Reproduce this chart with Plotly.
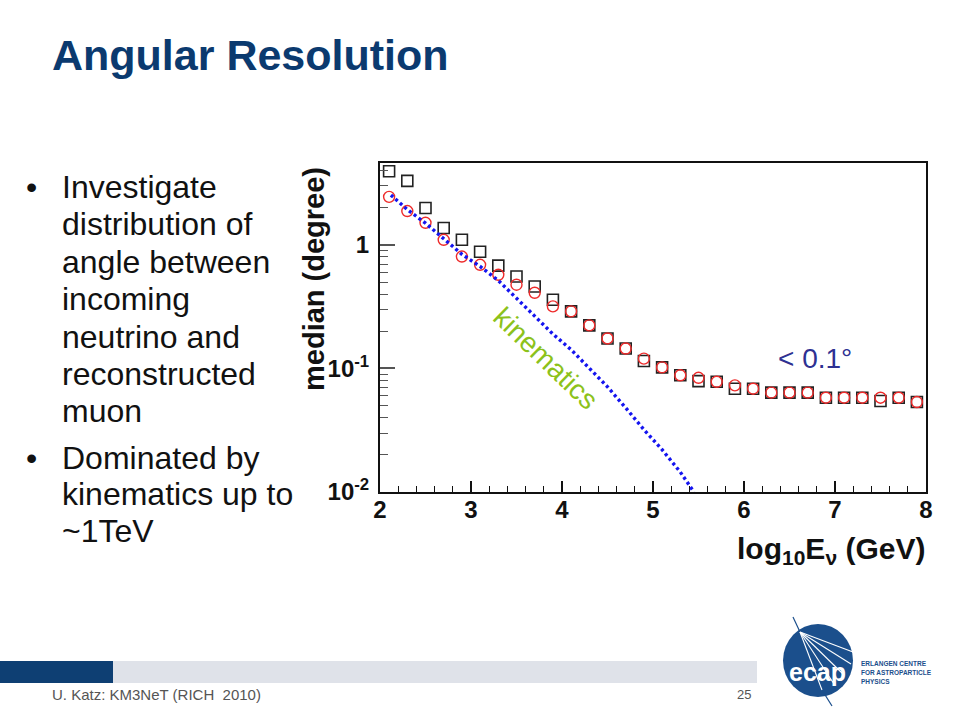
import plotly.graph_objects as go

# ---------------- data ----------------
energies = [2.1, 2.3, 2.5, 2.7, 2.9, 3.1, 3.3, 3.5, 3.7, 3.9,
            4.1, 4.3, 4.5, 4.7, 4.9, 5.1, 5.3, 5.5, 5.7, 5.9,
            6.1, 6.3, 6.5, 6.7, 6.9, 7.1, 7.3, 7.5, 7.7, 7.9]
median_squares = [3.95, 3.30, 1.99, 1.37, 1.10, 0.88, 0.68, 0.555, 0.46, 0.36,
                  0.29, 0.223, 0.175, 0.145, 0.115, 0.102, 0.088, 0.079, 0.078, 0.0686,
                  0.0686, 0.0637, 0.0637, 0.0637, 0.058, 0.058, 0.058, 0.0545, 0.058, 0.0535]
median_circles = [2.45, 1.88, 1.51, 1.10, 0.805, 0.69, 0.573, 0.476, 0.41, 0.318,
                  0.29, 0.223, 0.175, 0.145, 0.12, 0.102, 0.088, 0.084, 0.078, 0.073,
                  0.0686, 0.0637, 0.0637, 0.0637, 0.058, 0.058, 0.058, 0.058, 0.058, 0.0535]
kin_energy = [2.12, 2.3, 2.5, 2.7, 2.9, 3.1, 3.3, 3.5, 3.7, 3.9,
              4.1, 4.3, 4.5, 4.7, 4.9, 5.1, 5.3, 5.45]
kin_median = [2.53, 1.93, 1.50, 1.12, 0.84, 0.67, 0.515, 0.37, 0.265, 0.19,
              0.142, 0.101, 0.071, 0.048, 0.032, 0.022, 0.0145, 0.0100]

x_ticks = [2, 3, 4, 5, 6, 7, 8]
y_ticks = [0.01, 0.1, 1]
y_tick_labels = ["10<sup>-2</sup>", "10<sup>-1</sup>", "1"]
y_minor = [m * d for d in (0.01, 0.1, 1) for m in range(2, 10) if m * d < 4.6]

bullets = [
    ["Investigate", "distribution of", "angle between", "incoming",
     "neutrino and", "reconstructed", "muon"],
    ["Dominated by", "kinematics up to", "~1TeV"],
]

# ---------------- layout helpers (pixel -> paper) ----------------
W, H = 960, 720
L, R, T, B = 380, 926, 163, 492


def px(x):
    return (x - L) / (R - L)


def py(y):
    return (B - y) / (B - T)


FONT = "Liberation Sans, Arial, sans-serif"


def note(x, y, text, size, color, xanchor="center", yanchor="middle", angle=0):
    return dict(x=px(x), y=py(y), xref="paper", yref="paper", text=text,
                showarrow=False, xanchor=xanchor, yanchor=yanchor, textangle=angle,
                font=dict(family=FONT, size=size, color=color))


fig = go.Figure()
fig.add_trace(go.Scatter(
    x=energies, y=median_squares, mode="markers",
    marker=dict(symbol="square-open", size=11, color="#222222", line=dict(width=1.6)),
    showlegend=False, cliponaxis=False))
fig.add_trace(go.Scatter(
    x=energies, y=median_circles, mode="markers",
    marker=dict(symbol="circle-open", size=11, color="#ee2a2a", line=dict(width=1.4)),
    showlegend=False, cliponaxis=False))
fig.add_trace(go.Scatter(
    x=kin_energy, y=kin_median, mode="lines",
    line=dict(color="#1414f0", width=3.4, dash="3px,3px"),
    showlegend=False))

annotations = []
annotations.append(note(50, 55, "<b>Angular Resolution</b>", 43, "#0b3a6f", xanchor="left"))
line_y = [[187, 224, 262, 299, 337, 374, 411], [458, 494, 531]]
for block, ys in zip(bullets, line_y):
    annotations.append(note(24, ys[0], "•", 32, "#111111", xanchor="left"))
    for txt, yy in zip(block, ys):
        annotations.append(note(60, yy, txt, 32, "#111111", xanchor="left"))
annotations.append(note(314, 279, "<b>median (degree)</b>", 29, "#111111", angle=-90))
annotations.append(note(927, 550, "<b>log<sub>10</sub>E<sub>ν</sub> (GeV)</b>", 30,
                        "#111111", xanchor="right"))
annotations.append(note(546, 358, "kinematics", 28, "#8cc21a", angle=44))
annotations.append(note(815, 358, "< 0.1°", 28, "#2e3192"))
annotations.append(note(50, 694, "U. Katz: KM3NeT (RICH  2010)", 15, "#555555", xanchor="left"))
annotations.append(note(753, 694, "25", 13, "#555555", xanchor="right"))
annotations.append(note(817, 672, "<b>ecap</b>", 25, "white"))
for txt, yy in zip(["ERLANGEN CENTRE", "FOR ASTROPARTICLE", "PHYSICS"], [663, 672, 681]):
    annotations.append(note(859, yy, "<b>" + txt + "</b>", 6.5, "#1b4f8c", xanchor="left"))

shapes = [
    dict(type="rect", xref="paper", yref="paper", x0=px(0), x1=px(113), y0=py(683), y1=py(661),
         fillcolor="#0e3f73", line=dict(width=0), layer="below"),
    dict(type="rect", xref="paper", yref="paper", x0=px(113), x1=px(757), y0=py(683), y1=py(661),
         fillcolor="#dfe2e9", line=dict(width=0), layer="below"),
    dict(type="circle", xref="paper", yref="paper", x0=px(783), x1=px(853), y0=py(697), y1=py(624),
         fillcolor="#1b4f8c", line=dict(width=0), layer="below"),
    dict(type="line", xref="paper", yref="paper", x0=px(793), y0=py(617), x1=px(800), y1=py(632),
         line=dict(color="#1b4f8c", width=1.2)),
    dict(type="line", xref="paper", yref="paper", x0=px(822), y0=py(690), x1=px(832), y1=py(706),
         line=dict(color="#1b4f8c", width=1.2)),
]
for ex, ey in [(822, 690), (834, 684), (844, 675), (851, 664), (853, 652)]:
    shapes.append(dict(type="line", xref="paper", yref="paper", x0=px(800), y0=py(632),
                       x1=px(ex), y1=py(ey), line=dict(color="white", width=1.1), layer="below"))

fig.update_layout(
    width=W, height=H, autosize=False,
    margin=dict(l=L, r=W - R, t=T, b=H - B, pad=0),
    paper_bgcolor="white", plot_bgcolor="white",
    annotations=annotations, shapes=shapes,
    xaxis=dict(range=[2, 8], tickmode="array", tickvals=x_ticks,
               ticks="inside", ticklen=11, tickwidth=1.5, tickcolor="#111111",
               minor=dict(dtick=0.2, tick0=2, ticks="inside", ticklen=6, tickwidth=1.2,
                          tickcolor="#111111", showgrid=False),
               showgrid=False, zeroline=False, showline=True, mirror=True,
               linecolor="#111111", linewidth=2, ticklabelstandoff=-5,
               tickfont=dict(family=FONT, size=24, color="#111111", weight="bold")),
    yaxis=dict(type="log", range=[-2, 0.663], tickmode="array", tickvals=y_ticks,
               ticktext=y_tick_labels,
               ticks="inside", ticklen=15, tickwidth=1.5, tickcolor="#555555",
               minor=dict(tickvals=y_minor, ticks="inside", ticklen=8, tickwidth=1.2,
                          tickcolor="#555555", showgrid=False),
               showgrid=False, zeroline=False, showline=True, mirror=True,
               linecolor="#111111", linewidth=2, ticklabelstandoff=4,
               tickfont=dict(family=FONT, size=24, color="#111111", weight="bold")),
)

fig.write_html("out.html", config={"displayModeBar": False},
               post_script="document.body.style.margin='0';")
